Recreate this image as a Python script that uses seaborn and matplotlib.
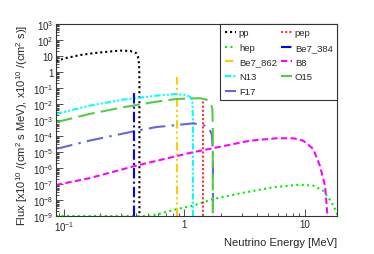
"""Solar neutrino flux spectra, ROOT-style log-log plot."""

import matplotlib

matplotlib.use("Agg")
import matplotlib.pyplot as plt
import numpy as np
import pandas as pd
import seaborn as sns

# energies [MeV] and fluxes
pp_e = [0.0858, 0.104, 0.136, 0.181, 0.241, 0.292, 0.354, 0.397, 0.412, 0.420, 0.423, 0.423]
pp_f = [4.9, 7.5, 11.5, 15.4, 19.1, 21.8, 20.5, 15.4, 8.7, 3.2, 0.3, 1e-9]

pep_e = [1.442, 1.442]
pep_f = [1e-9, 0.018]

hep_e = [0.0858, 0.519, 0.601, 0.865, 1.175, 1.74, 2.9, 5.5, 9.16, 11.8, 14.3, 16.8, 18.5, 18.77]
hep_f = [1e-9, 1.0e-9, 1.3e-9, 2.7e-9, 4.4e-9, 1.15e-8, 2.6e-8, 6.3e-8, 9.1e-8, 7.9e-8,
         3.8e-8, 7.2e-9, 1.7e-9, 1e-9]

be7_384_e = [0.384, 0.384]
be7_384_f = [1e-9, 0.047]

be7_862_e = [0.862, 0.862]
be7_862_f = [1e-9, 0.47]

b8_e = [0.0858, 0.162, 0.397, 1.175, 3.52, 5.86, 8.06, 9.75, 11.8, 13.4, 14.8, 15.5]
b8_f = [8.7e-8, 2.3e-7, 1.4e-6, 9.6e-6, 5.1e-5, 7.2e-5, 7.2e-5, 5.1e-5, 1.55e-5,
        1.4e-6, 7.9e-8, 1e-9]

n13_e = [0.0858, 0.162, 0.308, 0.582, 0.837, 1.047, 1.13, 1.166, 1.18, 1.18]
n13_f = [2.37e-3, 7.8e-3, 0.0186, 0.033, 0.042, 0.036, 0.026, 0.0133, 1e-3, 1e-9]

o15_e = [0.0858, 0.162, 0.308, 0.582, 0.853, 1.35, 1.535, 1.667, 1.71, 1.725, 1.725]
o15_f = [7.2e-4, 2.37e-3, 6.2e-3, 0.0139, 0.0205, 0.023, 0.0186, 0.01, 4.9e-3, 5e-4, 1e-9]

f17_e = [0.0858, 0.162, 0.397, 0.582, 1.19, 1.486, 1.613, 1.69, 1.73, 1.73]
f17_f = [1.55e-5, 5.1e-5, 2.1e-4, 3.6e-4, 6.2e-4, 4.4e-4, 2.7e-4, 1.3e-4, 1e-5, 1e-9]

y_ticks = [1e3, 1e2, 1e1, 1, 1e-1, 1e-2, 1e-3, 1e-4, 1e-5, 1e-6, 1e-7, 1e-8, 1e-9]
y_labels = ["$10^{3}$", "$10^{2}$", "10", "1", "$10^{-1}$", "$10^{-2}$", "$10^{-3}$",
            "$10^{-4}$", "$10^{-5}$", "$10^{-6}$", "$10^{-7}$", "$10^{-8}$", "$10^{-9}$"]
x_ticks = [0.1, 1, 10]
x_labels = ["$10^{-1}$", "1", "10"]

# name, energies, fluxes, colour, dash pattern
SERIES = [
    ("pp", pp_e, pp_f, "black", (0, (1, 1.4))),
    ("hep", hep_e, hep_f, "#00ee00", (0, (1, 1.6))),
    ("Be7_862", be7_862_e, be7_862_f, "#ffcc00", (0, (4, 1.5, 1, 1.5, 1, 1.5))),
    ("N13", n13_e, n13_f, "#00ffff", (0, (3, 1, 1, 1, 1, 1))),
    ("F17", f17_e, f17_f, "#6666dd", (0, (8, 3, 1.2, 3))),
    ("pep", pep_e, pep_f, "#ff3333", (0, (1, 1))),
    ("Be7_384", be7_384_e, be7_384_f, "#0000ff", (0, (5, 1.5, 1, 1.5))),
    ("B8", b8_e, b8_f, "#ff00ff", (0, (3, 1.6))),
    ("O15", o15_e, o15_f, "#55cc44", (0, (8, 3))),
]

sns.set_style("ticks")
plt.rcParams["font.family"] = ["Liberation Sans", "DejaVu Sans"]
plt.rcParams["mathtext.fontset"] = "custom"
plt.rcParams["mathtext.rm"] = "Liberation Sans"
plt.rcParams["mathtext.it"] = "Liberation Sans:italic"

fig = plt.figure(figsize=(3.74, 2.55), dpi=100)
ax = fig.add_axes([0.150, 0.149, 0.751, 0.753])
ax.set_xscale("log")
ax.set_yscale("log")

handles = []
for name, e, f, color, dash in SERIES:
    df = pd.DataFrame({"E": e, "flux": f})
    sns.lineplot(data=df, x="E", y="flux", ax=ax, color=color, linewidth=1.5,
                 estimator=None, sort=False, label=name)
    line = ax.lines[-1]
    line.set_linestyle(dash)
    handles.append(line)

ax.set_xlim(0.0858, 18.6)
ax.set_ylim(1e-9, 1e3)

ax.set_yticks(y_ticks)
ax.set_yticklabels(y_labels)
ax.set_xticks(x_ticks)
ax.set_xticklabels(x_labels)
ax.yaxis.set_minor_locator(matplotlib.ticker.LogLocator(base=10, subs=np.arange(2, 10), numticks=50))
ax.xaxis.set_minor_locator(matplotlib.ticker.LogLocator(base=10, subs=np.arange(2, 10), numticks=50))
ax.yaxis.set_minor_formatter(matplotlib.ticker.NullFormatter())
ax.xaxis.set_minor_formatter(matplotlib.ticker.NullFormatter())

ax.tick_params(which="both", direction="in", top=False, right=False, labelsize=7,
               color="#333333", width=0.6)
ax.tick_params(which="major", length=5, pad=2)
ax.tick_params(which="minor", length=2.5)
for spine in ax.spines.values():
    spine.set_linewidth(0.8)
    spine.set_color("#333333")

ax.set_xlabel("Neutrino Energy [MeV]", fontsize=8, loc="right", labelpad=3)
ax.set_ylabel("Flux [x10$^{10}$ /(cm$^{2}$ s MeV), x10$^{10}$ /(cm$^{2}$ s)]",
              fontsize=8, loc="top", labelpad=2)

leg = ax.legend(handles=handles, labels=[s[0] for s in SERIES], ncol=2, loc="upper right",
                borderaxespad=0, fontsize=6.8, handlelength=1.2, handletextpad=0.3,
                columnspacing=0.4, labelspacing=0.6, fancybox=False, framealpha=1,
                edgecolor="#333333", borderpad=0.45)
leg.get_frame().set_linewidth(0.8)

fig.savefig("out.png", dpi=100)
